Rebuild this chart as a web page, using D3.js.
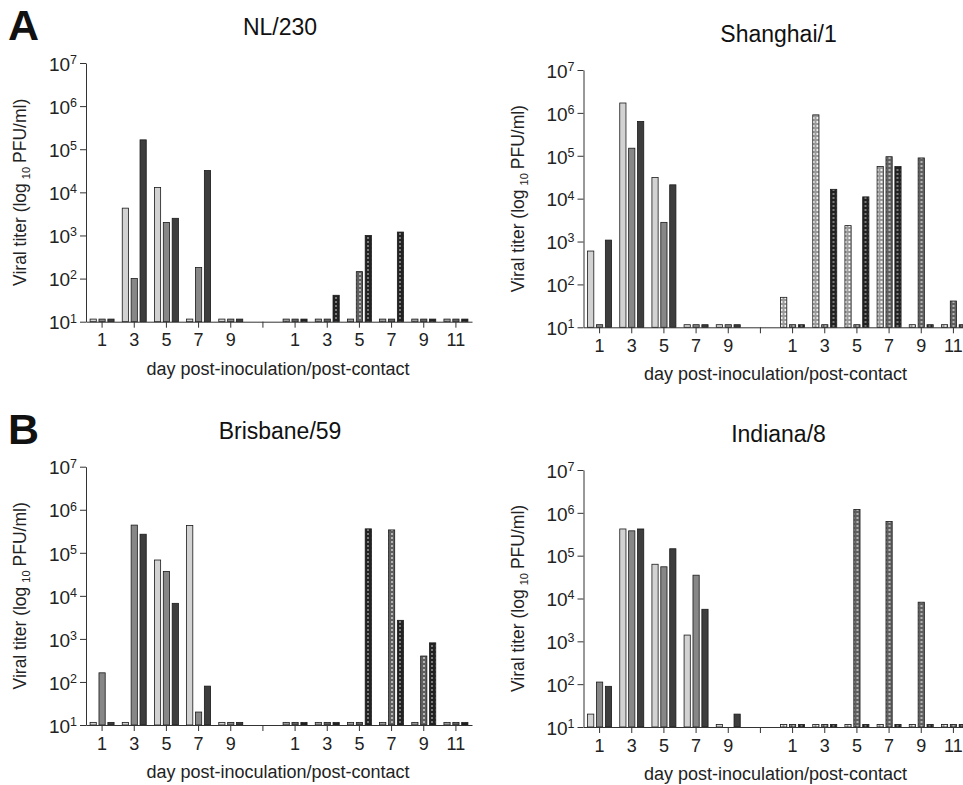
<!DOCTYPE html>
<html>
<head>
<meta charset="utf-8">
<script src="https://cdn.jsdelivr.net/npm/d3@7"></script>
<style>
  body { margin: 0; background: #fff; }
  svg { display: block; font-family: "Liberation Sans", Arial, sans-serif; }
</style>
</head>
<body>
<div id="chart"></div>
<script>
// x categories: inoculated days, an empty gap slot, then contact days
var inocDays = ["1", "3", "5", "7", "9"];
var contactDays = ["1", "3", "5", "7", "9", "11"];
var ferrets = ["ferret 1", "ferret 2", "ferret 3"];
var yTicks = [1e1, 1e2, 1e3, 1e4, 1e5, 1e6, 1e7];

// NL/230 (PFU/ml), one array per ferret, null = no sample
var nlInoc1 = [11.5, 4300, 12900, 11.5, 11.5];
var nlInoc2 = [11.5, 100, 2000, 180, 11.5];
var nlInoc3 = [11.5, 165000, 2500, 32000, 11.5];
var nlCont1 = [11.5, 11.5, 11.5, 11.5, 11.5, 11.5];
var nlCont2 = [11.5, 11.5, 145, 11.5, 11.5, 11.5];
var nlCont3 = [11.5, 41, 1000, 1200, 11.5, 11.5];

// Shanghai/1
var shInoc1 = [600, 1700000, 31000, 11.5, 11.5];
var shInoc2 = [11.5, 150000, 2800, 11.5, 11.5];
var shInoc3 = [1080, 630000, 21000, 11.5, 11.5];
var shCont1 = [50, 900000, 2350, 56000, 11.5, 11.5];
var shCont2 = [11.5, 11.5, 11.5, 95000, 89000, 41];
var shCont3 = [11.5, 16500, 11000, 56000, 11.5, 11.5];

// Brisbane/59
var brInoc1 = [11.5, 11.5, 68000, 430000, 11.5];
var brInoc2 = [163, 440000, 37000, 20, 11.5];
var brInoc3 = [11.5, 270000, 6700, 80, 11.5];
var brCont1 = [11.5, 11.5, 11.5, 11.5, 11.5, 11.5];
var brCont2 = [11.5, 11.5, 11.5, 340000, 400, 11.5];
var brCont3 = [11.5, 11.5, 360000, 2700, 810, 11.5];

// Indiana/8
var inInoc1 = [20, 420000, 63000, 1400, 11.5];
var inInoc2 = [112, 380000, 55000, 35000, null];
var inInoc3 = [89, 420000, 145000, 5600, 20];
var inCont1 = [11.5, 11.5, 11.5, 11.5, 11.5, 11.5];
var inCont2 = [11.5, 11.5, 1200000, 630000, 8200, 11.5];
var inCont3 = [11.5, 11.5, 11.5, 11.5, 11.5, 11.5];

var panels = [
  { title: "NL/230", letter: "A", x0: 86, top: 63, base: 321.7, inoc: [nlInoc1, nlInoc2, nlInoc3], cont: [nlCont1, nlCont2, nlCont3] },
  { title: "Shanghai/1", x0: 583.5, top: 70, base: 327.3, inoc: [shInoc1, shInoc2, shInoc3], cont: [shCont1, shCont2, shCont3] },
  { title: "Brisbane/59", letter: "B", x0: 86, top: 466.7, base: 725, inoc: [brInoc1, brInoc2, brInoc3], cont: [brCont1, brCont2, brCont3] },
  { title: "Indiana/8", x0: 583.5, top: 470, base: 727, inoc: [inInoc1, inInoc2, inInoc3], cont: [inCont1, inCont2, inCont3] }
];

var solidFill = ["#d2d2d2", "#878787", "#3d3d3d"];
var patId = ["pat-light", "pat-mid", "pat-dark"];

var width = 963, height = 785, plotW = 386;

var svg = d3.select("#chart").append("svg")
  .attr("width", width)
  .attr("height", height);

svg.append("rect").attr("width", width).attr("height", height).attr("fill", "#fff");

// checkered fills for the contact animals
var defs = svg.append("defs");
var patCols = [["#9a9a9a", "#f2f2f2"], ["#606060", "#b4b4b4"], ["#222", "#7a7a7a"]];
patId.forEach(function (id, i) {
  var p = defs.append("pattern")
    .attr("id", id)
    .attr("patternUnits", "userSpaceOnUse")
    .attr("width", 4).attr("height", 4);
  p.append("rect").attr("width", 4).attr("height", 4).attr("fill", patCols[i][0]);
  p.append("rect").attr("x", 1).attr("y", 1).attr("width", 2).attr("height", 2).attr("fill", patCols[i][1]);
});

var slots = inocDays.map(function (d) { return "i" + d; })
  .concat(["gap"])
  .concat(contactDays.map(function (d) { return "c" + d; }));

panels.forEach(function (p) {
  var g = svg.append("g").attr("transform", "translate(" + p.x0 + ",0)");

  var x = d3.scaleBand().domain(slots).range([0, plotW]);
  var inner = d3.scaleBand().domain([0, 1, 2]).range([-12, 12]).paddingInner(0.3);
  var y = d3.scaleLog().domain([10, 1e7]).range([p.base, p.top]);

  // flatten to one row per bar
  var rows = [];
  ferrets.forEach(function (f, k) {
    p.inoc[k].forEach(function (v, i) {
      if (v != null) rows.push({ slot: "i" + inocDays[i], k: k, v: v, contact: false });
    });
    p.cont[k].forEach(function (v, i) {
      if (v != null) rows.push({ slot: "c" + contactDays[i], k: k, v: v, contact: true });
    });
  });

  g.selectAll("rect.bar")
    .data(rows)
    .enter()
    .append("rect")
    .attr("class", "bar")
    .attr("x", function (d) { return x(d.slot) + x.bandwidth() / 2 + inner(d.k); })
    .attr("width", inner.bandwidth())
    .attr("y", function (d) { return y(d.v); })
    .attr("height", function (d) { return y(10) - y(d.v); })
    .attr("fill", function (d) { return d.contact ? "url(#" + patId[d.k] + ")" : solidFill[d.k]; })
    .attr("stroke", "#1a1a1a")
    .attr("stroke-width", 0.8);

  // x axis
  var xAxis = g.append("g")
    .attr("transform", "translate(0," + p.base + ")")
    .call(d3.axisBottom(x)
      .tickSize(6).tickSizeOuter(0).tickPadding(6)
      .tickFormat(function (s) { return s == "gap" ? "" : s.slice(1); }));
  xAxis.selectAll("text").attr("font-size", 18).attr("fill", "#222").attr("font-family", null);

  // y axis with 10^n labels
  var yAxis = g.append("g")
    .call(d3.axisLeft(y).tickValues(yTicks).tickSize(6).tickSizeOuter(0).tickPadding(3).tickFormat(""));
  yAxis.selectAll(".tick text").each(function (d) {
    var t = d3.select(this).attr("font-size", 19).attr("fill", "#222").attr("font-family", null)
      .attr("dy", "0.38em");
    t.append("tspan").text("10");
    t.append("tspan").attr("font-size", 12.5).attr("dy", "-0.55em").text(Math.round(Math.log10(d)));
  });
  svg.selectAll(".domain, .tick line").attr("stroke", "#333");

  // titles
  svg.append("text")
    .attr("x", p.x0 + 194 + (p.x0 > 300 ? 1 : 0))
    .attr("y", p.top - 28)
    .attr("text-anchor", "middle")
    .attr("font-size", 23)
    .attr("fill", "#111")
    .text(p.title);

  if (p.letter) {
    svg.append("text")
      .attr("x", 8)
      .attr("y", p.top - 23)
      .attr("font-size", 43)
      .attr("font-weight", "bold")
      .attr("fill", "#111")
      .text(p.letter);
  }

  var yl = svg.append("text")
    .attr("transform", "translate(" + (p.x0 - 60) + "," + ((p.top + p.base) / 2) + ") rotate(-90)")
    .attr("text-anchor", "middle")
    .attr("font-size", 17.5)
    .attr("fill", "#222");
  yl.append("tspan").text("Viral titer (log");
  yl.append("tspan").attr("font-size", 11).attr("dx", 4).attr("dy", 4).text("10");
  yl.append("tspan").attr("dx", 4).attr("dy", -4).text("PFU/ml)");

  svg.append("text")
    .attr("x", p.x0 + 192)
    .attr("y", p.base + 53)
    .attr("text-anchor", "middle")
    .attr("font-size", 18)
    .attr("fill", "#222")
    .text("day post-inoculation/post-contact");
});
</script>
</body>
</html>
